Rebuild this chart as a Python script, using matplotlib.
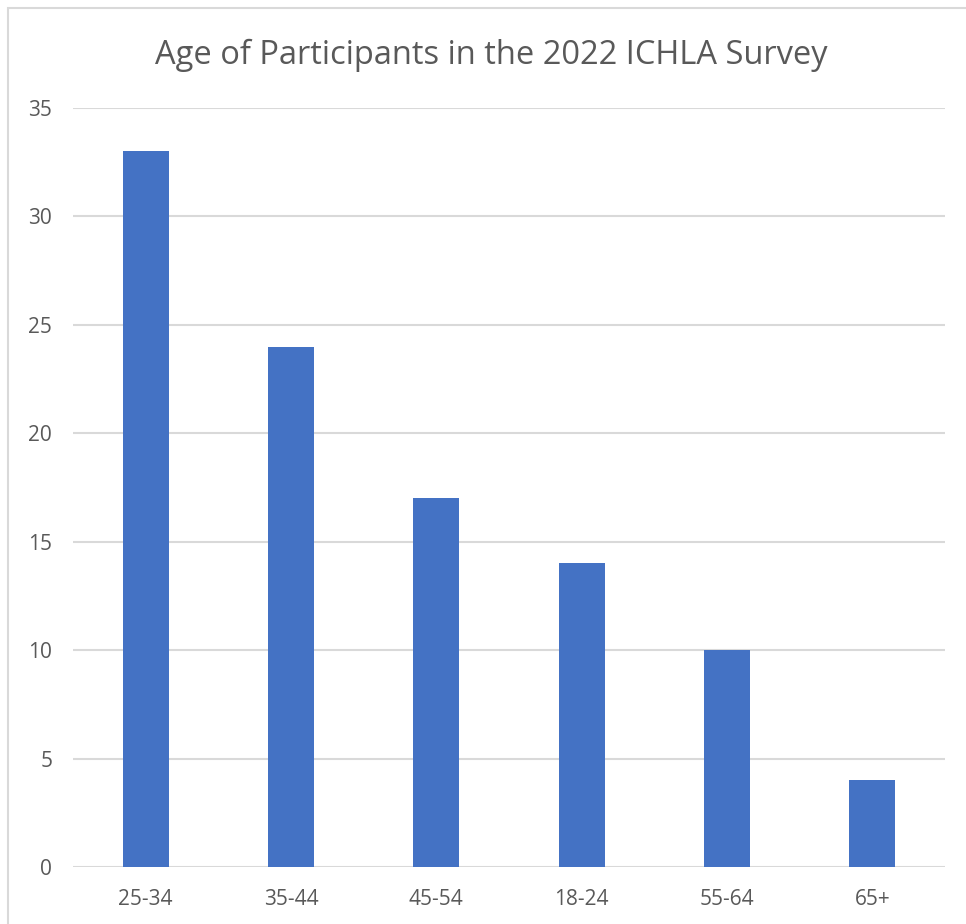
import numpy as np
import matplotlib.pyplot as plt
from matplotlib.patches import Rectangle

age_groups = ["25-34", "35-44", "45-54", "18-24", "55-64", "65+"]
participants = [33, 24, 17, 14, 10, 4]
y_ticks = [0, 5, 10, 15, 20, 25, 30, 35]

plt.rcParams['font.family'] = ['Open Sans', 'DejaVu Sans']

fig = plt.figure(figsize=(9.66, 9.24), dpi=100)
ax = fig.add_axes([73 / 966, 1 - 867 / 924, 872 / 966, (867 - 108) / 924])

# Excel-like chart border (cropped at right and bottom)
fig.patches.append(Rectangle((8 / 966, -0.1), 1.2, 1.1 - 8 / 924,
                             transform=fig.transFigure, fill=False,
                             edgecolor='#d9d9d9', linewidth=1.5))

x = np.arange(len(age_groups))
ax.bar(x, participants, width=0.317, color='#4472c4', zorder=3)

ax.set_xlim(-0.5, len(age_groups) - 0.5)
ax.set_ylim(0, 35)
ax.set_yticks(y_ticks)
ax.set_xticks(x)
ax.set_xticklabels(age_groups)
ax.yaxis.grid(True, color='#d9d9d9', linewidth=1.5, zorder=0)
ax.set_axisbelow(True)
for s in ax.spines.values():
    s.set_visible(False)
ax.tick_params(axis='both', length=0, labelsize=15, colors='#595959')
ax.tick_params(axis='y', pad=15)
ax.tick_params(axis='x', pad=16)

fig.text(491 / 966, 1 - 55 / 924, "Age of Participants in the 2022 ICHLA Survey",
         ha='center', va='center', fontsize=23.5, color='#595959')

fig.savefig('out.png', dpi=100)
